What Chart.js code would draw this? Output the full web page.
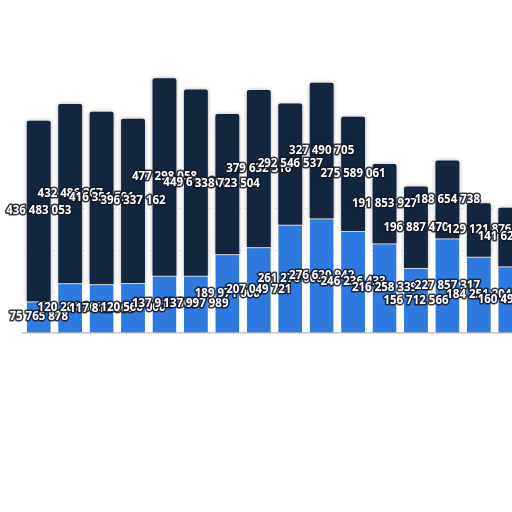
<!DOCTYPE html>
<html>
<head>
<meta charset="utf-8">
<script src="https://cdn.jsdelivr.net/npm/chart.js@4/dist/chart.umd.min.js"></script>
<style>
html,body{margin:0;padding:0;background:#fff;overflow:hidden;width:512px;height:512px;}
#wrap{width:526px;height:512px;}
</style>
</head>
<body>
<div id="wrap"><canvas id="c" width="526" height="512"></canvas></div>
<script>
const categories = ["1","2","3","4","5","6","7","8","9","10","11","12","13","14","15","16"];
const lowerValues = [75765878,120281000,117812000,120566000,137913000,137997989,189971000,207049721,261276000,276620942,246236433,216258339,156712566,227857317,184251204,160495000];
const upperValues = [436483053,432486267,416351591,396337162,477298058,449610000,338723504,379632516,292546537,327490705,275589061,191853927,196887470,188654738,129121876,141620000];
const yTicks = [0,100000000,200000000,300000000];

function fmt(v){ return String(Math.round(v)).replace(/\B(?=(\d{3})+(?!\d))/g,' '); }

const labelPlugin = {
  id:'segLabels',
  beforeDatasetsDraw(chart){ chart.ctx.save(); chart.ctx.shadowColor='rgba(0,0,0,0.3)'; chart.ctx.shadowBlur=4; },
  afterDatasetsDraw(chart){
    const ctx = chart.ctx;
    ctx.restore();
    ctx.save();
    ctx.font = 'bold 11.5px "Open Sans"';
    ctx.textAlign='center';
    ctx.textBaseline='middle';
    ctx.lineJoin='round';
    ctx.lineWidth=3.2;
    ctx.strokeStyle='rgba(20,24,36,0.85)';
    ctx.fillStyle='#ffffff';
    chart.data.datasets.forEach((ds,di)=>{
      const meta = chart.getDatasetMeta(di);
      meta.data.forEach((el,i)=>{
        const y = (el.y + el.base)/2;
        const t = fmt(ds.data[i]);
        ctx.strokeText(t, el.x, y);
        ctx.fillText(t, el.x, y);
      });
    });
    ctx.restore();
  }
};

new Chart(document.getElementById('c'), {
  type:'bar',
  data:{
    labels:categories,
    datasets:[
      {data:lowerValues, backgroundColor:'#2f7ae0', borderColor:'#e8eef6', borderWidth:{top:1,left:0,right:0,bottom:0}, borderSkipped:false, categoryPercentage:1, barPercentage:0.76},
      {data:upperValues, backgroundColor:'#14263e', borderColor:'#14263e', borderWidth:0, borderRadius:{topLeft:2,topRight:2}, borderSkipped:'bottom', categoryPercentage:1, barPercentage:0.76}
    ]
  },
  options:{
    responsive:false,
    animation:false,
    devicePixelRatio:1,
    layout:{padding:{left:23,top:43,bottom:179,right:0}},
    plugins:{legend:{display:false},tooltip:{enabled:false},title:{display:false}},
    scales:{
      x:{stacked:true, grid:{display:false, drawTicks:false}, ticks:{display:false}, border:{display:true,color:'#c8c8c8',width:1.5}},
      y:{stacked:true, min:0, max:700000000, afterBuildTicks:(s)=>{s.ticks=yTicks.map(v=>({value:v}));},
         grid:{drawTicks:false, color:'#e2e2e2', lineWidth:1, tickBorderDash:[2,4]}, ticks:{display:false}, border:{display:false, dash:[2,4]}}
    }
  },
  plugins:[labelPlugin]
});
</script>
</body>
</html>
